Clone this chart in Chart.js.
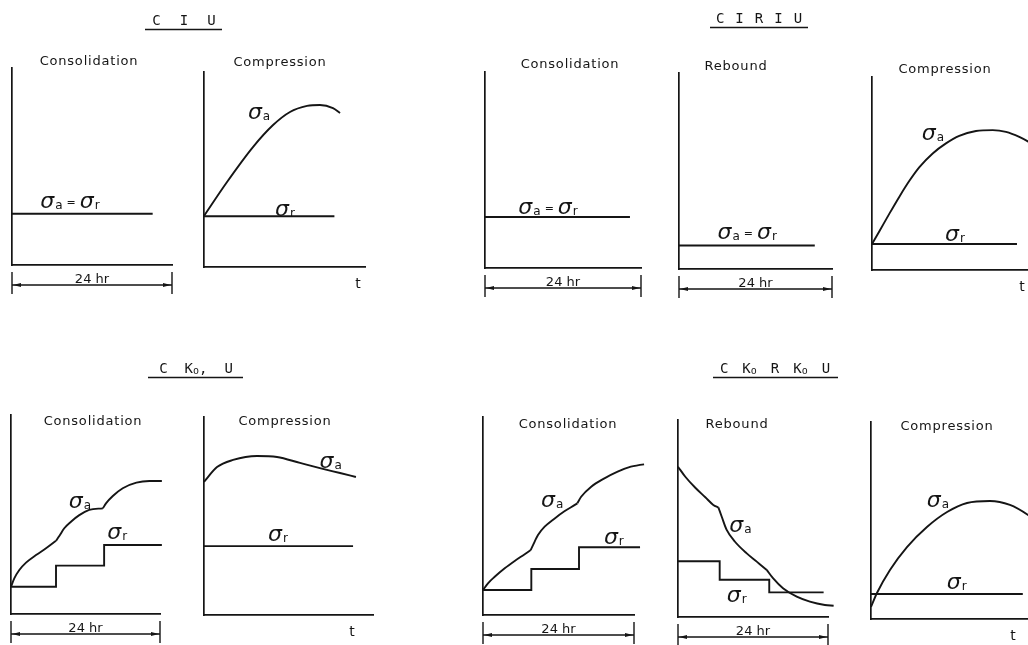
<!DOCTYPE html>
<html>
<head>
<meta charset="utf-8">
<script src="https://cdn.jsdelivr.net/npm/chart.js@4.4.1/dist/chart.umd.min.js"></script>
<style>
  html, body { margin: 0; padding: 0; background: #fff; width: 1028px; height: 645px; overflow: hidden; position: relative; }
  canvas { position: absolute; }
</style>
</head>
<body>
<script>
// Stage durations: consolidation / rebound run for 24 hr, shear time t is in relative units
const STAGE_HOURS = 24;
const SHEAR_T = 10;
const STRESS_MAX = 10;

// ---- C I U ----
const ciuConsolSigma = [[0, 2.6], [21.1, 2.6]];                       // σa = σr
const ciuCompSigmaA  = [[0, 2.62], [1.43, 4.36], [3.04, 6.15], [4.29, 7.28], [5.34, 7.95],
                        [6.40, 8.26], [7.20, 8.31], [8.01, 8.15], [8.45, 7.9]];
const ciuCompSigmaR  = [[0, 2.6], [8.1, 2.6]];

// ---- C I R I U ----
const ciriuConsolSigma  = [[0, 2.6], [22.3, 2.6]];
const ciriuReboundSigma = [[0, 1.2], [21.3, 1.2]];
const ciriuCompSigmaA   = [[0, 1.35], [0.45, 2.01], [1.06, 2.92], [1.67, 3.8], [2.28, 4.62], [2.89, 5.33],
                           [3.7, 6.04], [4.51, 6.56], [5.32, 6.95], [6.34, 7.2], [7.36, 7.25],
                           [8.17, 7.16], [8.98, 6.9], [9.53, 6.65], [10, 6.35]];
const ciriuCompSigmaR   = [[0, 1.35], [8.84, 1.35]];

// ---- C K0 U ----
const ck0uConsolSigmaR = [[0, 1.37], [7.25, 2.43], [15.0, 3.47], [24.3, 3.47]];   // load steps
const ck0uConsolSigmaA = [
  [[0, 1.37], [0.53, 1.79], [1.34, 2.21], [2.42, 2.58], [4.03, 2.96], [5.64, 3.30], [7.25, 3.68]],
  [[7.25, 3.68], [7.78, 3.92], [8.58, 4.31], [9.66, 4.64], [11.0, 4.97], [12.6, 5.23], [14.8, 5.31]],
  [[14.8, 5.31], [15.3, 5.56], [16.4, 5.93], [18.0, 6.32], [20.2, 6.60], [22.3, 6.68], [24.3, 6.68]]
];
const ck0uCompSigmaA = [[0, 6.72], [0.77, 7.47], [1.72, 7.83], [3.14, 8.03], [4.32, 7.98],
                        [5.68, 7.68], [6.86, 7.42], [8.05, 7.17], [8.99, 6.97]];
const ck0uCompSigmaR = [[0, 3.48], [8.82, 3.48]];

// ---- C K0 R K0 U ----
const ck0rConsolSigmaR = [[0, 1.26], [7.68, 2.32], [15.26, 3.42], [24.96, 3.42]];
const ck0rConsolSigmaA = [
  [[0, 1.26], [0.79, 1.6], [1.86, 1.93], [3.45, 2.36], [5.04, 2.73], [6.63, 3.07], [7.58, 3.28]],
  [[7.58, 3.28], [7.95, 3.53], [8.74, 4.04], [9.8, 4.46], [11.4, 4.88], [13.0, 5.25], [14.6, 5.56], [15.0, 5.64]],
  [[15.0, 5.64], [15.6, 5.97], [17.2, 6.48], [19.3, 6.90], [21.4, 7.24], [23.5, 7.49], [25.6, 7.61], [26.4, 7.63]]
];
const ck0rReboundSigmaR = [[0, 2.83], [6.67, 1.89], [14.6, 1.25], [23.3, 1.25]];
const ck0rReboundSigmaA = [
  [[0, 7.63], [1.17, 7.12], [2.77, 6.56], [4.37, 6.08], [5.65, 5.69], [6.45, 5.57]],
  [[6.45, 5.57], [7.0, 5.09], [7.79, 4.42], [9.12, 3.82], [11.0, 3.23], [12.6, 2.81], [14.2, 2.39]],
  [[14.2, 2.39], [15.2, 1.97], [16.8, 1.46], [19.0, 1.03], [21.1, 0.78], [23.5, 0.61], [24.9, 0.57]]
];
const ck0rCompSigmaA = [[0, 0.61], [0.36, 1.32], [1.15, 2.49], [2.18, 3.65], [3.39, 4.67], [4.61, 5.43],
                        [5.82, 5.89], [7.21, 5.99], [8.42, 5.79], [9.52, 5.28], [10, 4.97]];
const ck0rCompSigmaR = [[0, 1.27], [9.2, 1.27]];

// Test-type headings (K_o = K with subscript o)
const groupTitles = [
  { tokens: ['C', 'I', 'U'],               cx: 184, y: 20,  rule: [145, 222], gap: 19 },
  { tokens: ['C', 'I', 'R', 'I', 'U'],     cx: 759, y: 18,  rule: [710, 808], gap: 11 },
  { tokens: ['C', 'K_o,', 'U'],            cx: 196, y: 368, rule: [148, 243], gap: 17 },
  { tokens: ['C', 'K_o', 'R', 'K_o', 'U'], cx: 775, y: 368, rule: [713, 838], gap: 14 }
];

const INK = '#151515';
const FONT = '"DejaVu Sans", "Liberation Sans", sans-serif';
const MONO = '"DejaVu Sans Mono", "Liberation Mono", monospace';

const curve = d => ({ data: d, smooth: true });
const flat  = d => ({ data: d });
const steps = d => ({ data: d, stepped: true });

// Panel layout: box = [left, top, right, bottom] of the axes in page pixels
const panels = [
  { box: [12, 68, 172, 265], xMax: STAGE_HOURS, title: 'Consolidation', titleAt: [89, 62], span: true,
    series: [flat(ciuConsolSigma)], labels: [{ k: 'ar', x: 8.7, y: 3.2 }] },
  { box: [204, 72, 365, 267], xMax: SHEAR_T, title: 'Compression', titleAt: [280, 63], tAt: 9.57,
    series: [curve(ciuCompSigmaA), flat(ciuCompSigmaR)],
    labels: [{ k: 'a', x: 3.42, y: 7.9 }, { k: 'r', x: 5.03, y: 2.92 }] },

  { box: [485, 72, 641, 268], xMax: STAGE_HOURS, title: 'Consolidation', titleAt: [570, 65], span: true,
    series: [flat(ciriuConsolSigma)], labels: [{ k: 'ar', x: 9.7, y: 3.06 }] },
  { box: [679, 73, 832, 269], xMax: STAGE_HOURS, title: 'Rebound', titleAt: [736, 67], span: true,
    series: [flat(ciriuReboundSigma)], labels: [{ k: 'ar', x: 10.7, y: 1.84 }] },
  { box: [872, 77, 1036, 270], xMax: SHEAR_T, title: 'Compression', titleAt: [945, 70], tAt: 9.15,
    series: [curve(ciriuCompSigmaA), flat(ciriuCompSigmaR)],
    labels: [{ k: 'a', x: 3.72, y: 7.05 }, { k: 'r', x: 5.06, y: 1.8 }] },

  { box: [11, 415, 160, 614], xMax: STAGE_HOURS, title: 'Consolidation', titleAt: [93, 422], span: true,
    series: [...ck0uConsolSigmaA.map(curve), steps(ck0uConsolSigmaR)],
    labels: [{ k: 'a', x: 11.1, y: 5.63 }, { k: 'r', x: 17.1, y: 4.07 }] },
  { box: [204, 417, 373, 615], xMax: SHEAR_T, title: 'Compression', titleAt: [285, 422], tAt: 8.76,
    series: [curve(ck0uCompSigmaA), flat(ck0uCompSigmaR)],
    labels: [{ k: 'a', x: 7.5, y: 7.73 }, { k: 'r', x: 4.38, y: 4.04 }] },

  { box: [483, 417, 634, 615], xMax: STAGE_HOURS, title: 'Consolidation', titleAt: [568, 425], span: true,
    series: [...ck0rConsolSigmaA.map(curve), steps(ck0rConsolSigmaR)],
    labels: [{ k: 'a', x: 11.0, y: 5.76 }, { k: 'r', x: 20.8, y: 3.89 }] },
  { box: [678, 420, 828, 617], xMax: STAGE_HOURS, title: 'Rebound', titleAt: [737, 425], span: true,
    series: [...ck0rReboundSigmaA.map(curve), steps(ck0rReboundSigmaR)],
    labels: [{ k: 'a', x: 10.0, y: 4.6 }, { k: 'r', x: 9.4, y: 1.07 }] },
  { box: [871, 422, 1036, 619], xMax: SHEAR_T, title: 'Compression', titleAt: [947, 427], tAt: 8.6,
    series: [curve(ck0rCompSigmaA), flat(ck0rCompSigmaR)],
    labels: [{ k: 'a', x: 4.06, y: 5.99 }, { k: 'r', x: 5.2, y: 1.83 }] }
];

// σ with a small subscript; returns its width (draw=false only measures)
function sigma(ctx, x, base, sub, draw) {
  ctx.font = 'italic 22px ' + FONT;
  const w = ctx.measureText('σ').width;
  if (draw) ctx.fillText('σ', x, base);
  ctx.font = '12px ' + FONT;
  const ws = ctx.measureText(sub).width;
  if (draw) ctx.fillText(sub, x + w + 1, base + 1);
  return w + 1 + ws;
}

function stressLabel(ctx, kind, cx, cy) {
  const parts = kind === 'ar' ? ['a', '=', 'r'] : [kind];
  const base = cy + 6;
  ctx.font = '11px ' + FONT;
  const eqW = ctx.measureText('=').width + 8;
  const total = parts.reduce((s, p) => s + (p === '=' ? eqW : sigma(ctx, 0, 0, p, false)), 0);
  let x = cx - total / 2;
  ctx.textAlign = 'left';
  ctx.textBaseline = 'alphabetic';
  for (const p of parts) {
    if (p === '=') {
      ctx.font = '11px ' + FONT;
      ctx.fillText('=', x + 4, base - 2);
      x += eqW;
    } else {
      x += sigma(ctx, x, base, p, true);
    }
  }
}

// |<---- 24 hr ---->| dimension under a timed stage
function dimension(ctx, x0, x1, yb) {
  ctx.lineWidth = 1.4;
  ctx.beginPath();
  ctx.moveTo(x0, yb + 7);  ctx.lineTo(x0, yb + 29);
  ctx.moveTo(x1, yb + 7);  ctx.lineTo(x1, yb + 29);
  ctx.moveTo(x0, yb + 20); ctx.lineTo(x1, yb + 20);
  ctx.stroke();
  const head = (tip, dir) => {
    ctx.beginPath();
    ctx.moveTo(tip, yb + 20);
    ctx.lineTo(tip + dir * 8, yb + 18);
    ctx.lineTo(tip + dir * 8, yb + 22);
    ctx.closePath();
    ctx.fill();
  };
  head(x0 + 1, 1);
  head(x1 - 1, -1);
  ctx.font = '13px ' + FONT;
  ctx.textAlign = 'center';
  ctx.textBaseline = 'alphabetic';
  ctx.fillText('24 hr', (x0 + x1) / 2, yb + 18);
}

const axis = (max, horizontal) => ({
  type: 'linear', min: 0, max,
  grid: { display: false, drawTicks: false },
  ticks: { display: false },
  border: { display: true, color: INK, width: 1.7 },
  afterFit(s) { if (horizontal) s.height = 0; else s.width = 0; }
});

function buildPanel(panel) {
  const [L, T, R, B] = panel.box;
  const pad = { left: 14, top: 36, right: 32, bottom: 40 };
  const ox = L - pad.left, oy = T - pad.top;
  const W = R - L + pad.left + pad.right, H = B - T + pad.top + pad.bottom;
  const cv = document.createElement('canvas');
  cv.width = W; cv.height = H;
  cv.style.left = ox + 'px'; cv.style.top = oy + 'px';
  cv.style.width = W + 'px'; cv.style.height = H + 'px';
  document.body.appendChild(cv);

  // smooth stress paths use monotone cubic interpolation (no overshoot between read points)
  const datasets = panel.series.map(s => ({
    data: s.data.map(([x, y]) => ({ x, y })),
    borderColor: INK, borderWidth: 1.9, pointRadius: 0, fill: false, clip: false,
    stepped: s.stepped ? 'before' : false,
    cubicInterpolationMode: s.smooth ? 'monotone' : 'default',
    tension: 0,
    capBezierPoints: false
  }));

  const decorations = {
    id: 'decorations',
    afterDraw(chart) {
      const { ctx, chartArea: a } = chart;
      const sx = chart.scales.x, sy = chart.scales.y;
      ctx.save();
      ctx.fillStyle = INK; ctx.strokeStyle = INK;

      ctx.font = '13px ' + FONT;
      ctx.textAlign = 'center'; ctx.textBaseline = 'middle';
      if ('letterSpacing' in ctx) ctx.letterSpacing = '0.8px';
      ctx.fillText(panel.title, panel.titleAt[0] - ox, panel.titleAt[1] - oy);
      if ('letterSpacing' in ctx) ctx.letterSpacing = '0px';

      for (const lb of panel.labels) {
        stressLabel(ctx, lb.k, sx.getPixelForValue(lb.x), sy.getPixelForValue(lb.y));
      }
      if (panel.span) {
        dimension(ctx, sx.getPixelForValue(0), sx.getPixelForValue(STAGE_HOURS), a.bottom);
      }
      if (panel.tAt !== undefined) {
        ctx.font = '14px ' + FONT;
        ctx.textAlign = 'center'; ctx.textBaseline = 'middle';
        ctx.fillText('t', sx.getPixelForValue(panel.tAt), a.bottom + 17);
      }
      ctx.restore();
    }
  };

  new Chart(cv, {
    type: 'line',
    data: { datasets },
    options: {
      responsive: false, animation: false, devicePixelRatio: 1,
      layout: { padding: pad },
      plugins: { legend: { display: false }, tooltip: { enabled: false }, title: { display: false } },
      scales: { x: axis(panel.xMax, true), y: axis(STRESS_MAX, false) }
    },
    plugins: [decorations]
  });
}

panels.forEach(buildPanel);

// Headings above each test type, underlined
(function drawHeadings() {
  const cv = document.createElement('canvas');
  cv.width = 1028; cv.height = 645;
  cv.style.left = '0px'; cv.style.top = '0px';
  document.body.insertBefore(cv, document.body.firstChild);
  const ctx = cv.getContext('2d');
  ctx.fillStyle = INK; ctx.strokeStyle = INK;
  ctx.textBaseline = 'alphabetic'; ctx.textAlign = 'left';
  const big = '14px ' + MONO, small = '10px ' + MONO;
  const tokenWidth = tk => {
    if (tk.startsWith('K_o')) {
      ctx.font = big; let w = ctx.measureText('K' + tk.slice(3)).width;
      ctx.font = small; return w + ctx.measureText('o').width;
    }
    ctx.font = big; return ctx.measureText(tk).width;
  };
  for (const g of groupTitles) {
    const total = g.tokens.reduce((s, tk) => s + tokenWidth(tk), 0) + g.gap * (g.tokens.length - 1);
    let x = g.cx - total / 2;
    const base = g.y + 5;
    for (const tk of g.tokens) {
      if (tk.startsWith('K_o')) {
        ctx.font = big; ctx.fillText('K', x, base); x += ctx.measureText('K').width;
        ctx.font = small; ctx.fillText('o', x, base + 1); x += ctx.measureText('o').width;
        ctx.font = big; ctx.fillText(tk.slice(3), x, base); x += ctx.measureText(tk.slice(3)).width;
      } else {
        ctx.font = big; ctx.fillText(tk, x, base); x += ctx.measureText(tk).width;
      }
      x += g.gap;
    }
    ctx.lineWidth = 1.6;
    ctx.beginPath();
    ctx.moveTo(g.rule[0], g.y + 9.5); ctx.lineTo(g.rule[1], g.y + 9.5);
    ctx.stroke();
  }
})();
</script>
</body>
</html>
